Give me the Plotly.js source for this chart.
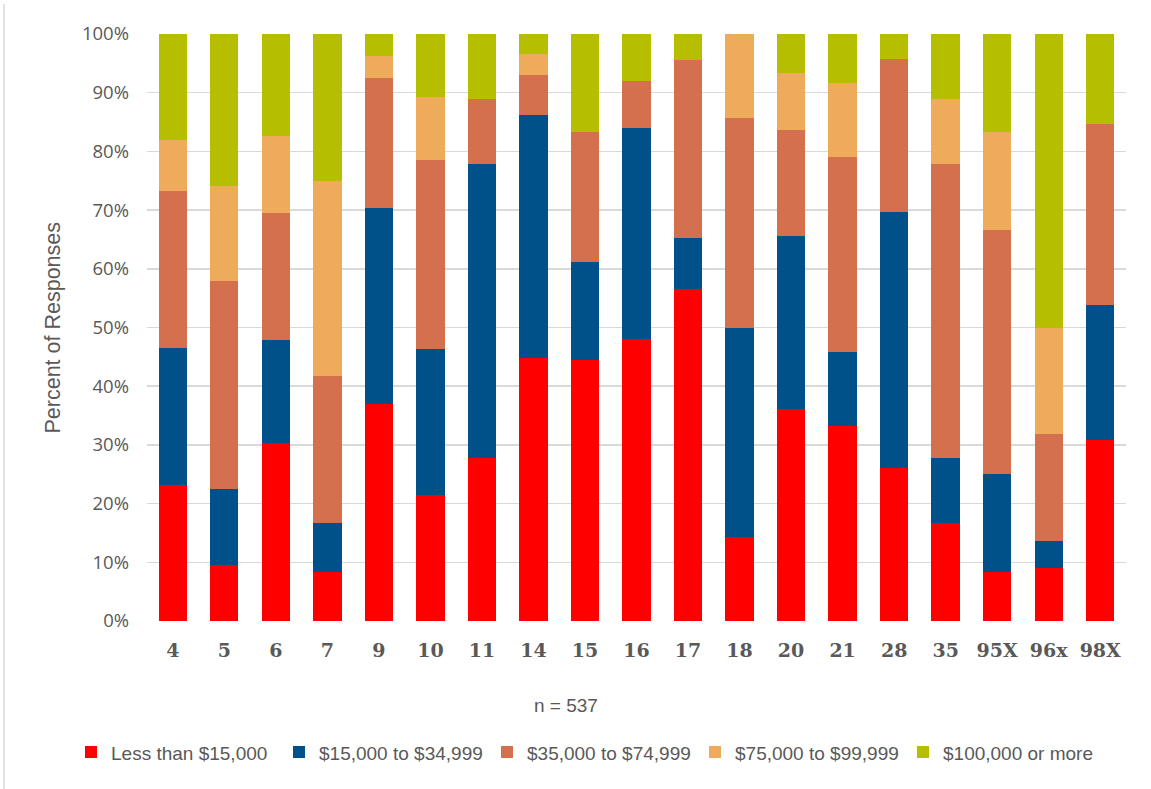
<!DOCTYPE html>
<html>
<head>
<meta charset="utf-8">
<script src="https://cdn.plot.ly/plotly-3.0.1.min.js"></script>
<style>html,body{margin:0;padding:0;background:#fff;}#chart{width:1151px;height:789px;}</style>
</head>
<body>
<div id="chart"></div>
<script>
const categories = ['4','5','6','7','9','10','11','14','15','16','17','18','20','21','28','35','95X','96x','98X'];
const seriesNames = ['Less than $15,000','$15,000 to $34,999','$35,000 to $74,999','$75,000 to $99,999','$100,000 or more'];
const seriesColors = ['#FF0000','#00508A','#D4704E','#EFAB5C','#B6BE00'];
const lessThan15k = [23.2, 9.6, 30.4, 8.3, 37.0, 21.4, 27.8, 44.8, 44.4, 48.0, 56.5, 14.3, 36.1, 33.3, 26.1, 16.7, 8.3, 9.1, 30.8];
const from15kTo35k = [23.3, 12.9, 17.4, 8.4, 33.3, 25.0, 50.0, 41.4, 16.7, 36.0, 8.7, 35.7, 29.5, 12.5, 43.5, 11.1, 16.7, 4.5, 23.1];
const from35kTo75k = [26.8, 35.5, 21.7, 25.0, 22.2, 32.1, 11.1, 6.9, 22.2, 8.0, 30.4, 35.7, 18.0, 33.3, 26.1, 50.0, 41.6, 18.2, 30.8];
const from75kTo100k = [8.6, 16.1, 13.1, 33.3, 3.7, 10.7, 0, 3.5, 0, 0, 0, 14.3, 9.8, 12.5, 0, 11.1, 16.7, 18.2, 0];
const over100k = [18.1, 25.9, 17.4, 25.0, 3.8, 10.8, 11.1, 3.4, 16.7, 8.0, 4.4, 0, 6.6, 8.4, 4.3, 11.1, 16.7, 50.0, 15.3];
const yTicks = [0,10,20,30,40,50,60,70,80,90,100];
const yTickText = ['0%','10%','20%','30%','40%','50%','60%','70%','80%','90%','100%'];

const allSeries = [lessThan15k, from15kTo35k, from35kTo75k, from75kTo100k, over100k];
const traces = allSeries.map((vals, i) => ({
  type: 'bar',
  name: seriesNames[i],
  x: categories,
  y: vals,
  marker: {color: seriesColors[i], line: {width: 0}},
  hoverinfo: 'x+y+name'
}));

const grey = '#595959';
const plotH = 587.2, plotW = 979, plotL = 147, plotB = 620.7;
const layout = {
  width: 1151, height: 789,
  margin: {l: plotL, r: 25, t: 33.5, b: 168.3, autoexpand: false},
  paper_bgcolor: '#ffffff', plot_bgcolor: '#ffffff',
  barmode: 'stack',
  bargap: 0.45,
  showlegend: true,
  font: {family: 'Liberation Sans, Arial, sans-serif', color: grey, size: 19},
  xaxis: {
    type: 'category',
    tickfont: {family: 'DejaVu Serif, serif', size: 19, color: grey, weight: 'bold'},
    ticklabelstandoff: 16,
    showgrid: false, showline: false, zeroline: false, ticks: ''
  },
  yaxis: {
    range: [0, 100],
    tickmode: 'array',
    tickvals: yTicks,
    ticktext: yTickText,
    tickfont: {family: 'Open Sans, sans-serif', size: 18.5, color: grey},
    ticklabelstandoff: 17,
    showgrid: true, gridcolor: '#d9d9d9', gridwidth: 1.5,
    zeroline: false, showline: false, ticks: ''
  },
  legend: {
    orientation: 'h',
    xref: 'paper', yref: 'paper',
    x: (71 - plotL) / plotW, xanchor: 'left',
    y: (plotB - 752) / plotH, yanchor: 'middle',
    entrywidth: 163, entrywidthmode: 'pixels',
    font: {family: 'Liberation Sans, Arial, sans-serif', size: 19, color: grey},
    traceorder: 'normal',
    itemclick: false, itemdoubleclick: false
  },
  annotations: [
    {text: 'Percent of Responses', textangle: -90, xref: 'paper', yref: 'paper',
     x: 0, y: 0.5, xanchor: 'center', yanchor: 'middle', xshift: -95, showarrow: false,
     font: {family: 'Liberation Sans, Arial, sans-serif', size: 21.5, color: grey}},
    {text: 'n = 537', xref: 'paper', yref: 'paper', x: (566 - plotL) / plotW, y: 0,
     xanchor: 'center', yanchor: 'middle', yshift: -84, showarrow: false,
     font: {family: 'Liberation Sans, Arial, sans-serif', size: 19, color: grey}}
  ],
  shapes: [
    {type: 'line', xref: 'paper', yref: 'paper', x0: (4 - plotL) / plotW, x1: (4 - plotL) / plotW,
     y0: -168 / plotH, y1: 1 + 30 / plotH, line: {color: '#d9d9d9', width: 1.5}}
  ]
};

Plotly.newPlot('chart', traces, layout, {displayModeBar: false, staticPlot: true});
</script>
</body>
</html>
